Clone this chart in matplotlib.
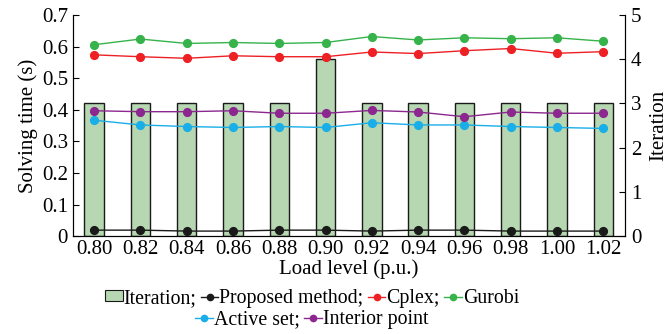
import matplotlib.pyplot as plt
from matplotlib.lines import Line2D
from matplotlib.patches import Patch

plt.rcParams['font.family'] = ['Liberation Serif', 'DejaVu Serif']
plt.rcParams['font.size'] = 15

load = [0.80, 0.82, 0.84, 0.86, 0.88, 0.90, 0.92, 0.94, 0.96, 0.98, 1.00, 1.02]
tick_labels = ['0.80', '0.82', '0.84', '0.86', '0.88', '0.90',
               '0.92', '0.94', '0.96', '0.98', '1.00', '1.02']
iteration = [3, 3, 3, 3, 3, 4, 3, 3, 3, 3, 3, 3]
proposed = [0.019, 0.019, 0.016, 0.016, 0.019, 0.019, 0.016, 0.019, 0.019, 0.016, 0.016, 0.016]
cplex = [0.574, 0.568, 0.563, 0.571, 0.568, 0.568, 0.583, 0.578, 0.587, 0.594, 0.579, 0.584]
gurobi = [0.606, 0.624, 0.610, 0.613, 0.610, 0.613, 0.632, 0.621, 0.628, 0.625, 0.628, 0.617]
active_set = [0.367, 0.352, 0.347, 0.344, 0.347, 0.344, 0.359, 0.352, 0.352, 0.347, 0.344, 0.341]
interior = [0.397, 0.394, 0.394, 0.397, 0.389, 0.389, 0.398, 0.393, 0.378, 0.393, 0.389, 0.389]

fig = plt.figure(figsize=(6.68, 3.34), dpi=100)
ax = fig.add_axes([0.109, 0.293, 0.827, 0.662])
ax2 = ax.twinx()

# Bars on the iteration axis, lines on the time axis (drawn on top).
ax2.bar(load, iteration, width=0.0084, color='#b6d7b1', edgecolor='#1a1a1a',
        linewidth=1.0, zorder=1)
ax2.set_ylim(0, 5)
ax2.set_zorder(1)
ax.set_zorder(2)
ax.patch.set_visible(False)

series = [
    (proposed, '#1a1a1a'),
    (cplex, '#ed2024'),
    (gurobi, '#36b34a'),
    (active_set, '#19aee8'),
    (interior, '#8b278f'),
]
for vals, col in series:
    ax.plot(load, vals, color=col, linewidth=1.0, marker='o', markersize=5.6)

ax.set_xlim(0.7908, 1.0295)
ax.set_ylim(0, 0.7)
ax.set_xticks(load)
ax.set_xticklabels(tick_labels)
ax.set_yticks([0, 0.1, 0.2, 0.3, 0.4, 0.5, 0.6, 0.7])
ax.set_yticklabels(['0', '0.1', '0.2', '0.3', '0.4', '0.5', '0.6', '0.7'])
ax2.set_yticks([0, 1, 2, 3, 4, 5])

ax.tick_params(axis='y', direction='in', length=4, width=0.8, pad=3.5)
ax.tick_params(axis='x', length=0, pad=3)
ax2.tick_params(axis='y', direction='in', length=4, width=0.8, pad=4)

for a in (ax, ax2):
    a.spines['top'].set_visible(False)
    for s in ('left', 'right', 'bottom'):
        a.spines[s].set_linewidth(0.8)

ax.set_ylabel('Solving time (s)', labelpad=3)
ax2.set_ylabel('Iteration', labelpad=6)
ax.set_xlabel('Load level (p.u.)', labelpad=0)

def line_handle(col):
    return Line2D([], [], color=col, linewidth=1.0, marker='o', markersize=4.5)

row1 = [Patch(facecolor='#b6d7b1', edgecolor='#1a1a1a', linewidth=0.8),
        line_handle('#1a1a1a'), line_handle('#ed2024'), line_handle('#36b34a')]
lab1 = ['Iteration;', 'Proposed method;', 'Cplex;', 'Gurobi']
row2 = [line_handle('#19aee8'), line_handle('#8b278f')]
lab2 = ['Active set;', 'Interior point']

kw = dict(frameon=False, handlelength=0.9, handleheight=0.45, handletextpad=0.05,
          columnspacing=0.2, borderaxespad=0, fontsize=14.3)
fig.legend(row1, lab1, ncol=4, loc='center', bbox_to_anchor=(0.467, 0.107), **kw)
fig.legend(row2, lab2, ncol=2, loc='center', bbox_to_anchor=(0.467, 0.044), **kw)

fig.savefig('out.png', dpi=100)
